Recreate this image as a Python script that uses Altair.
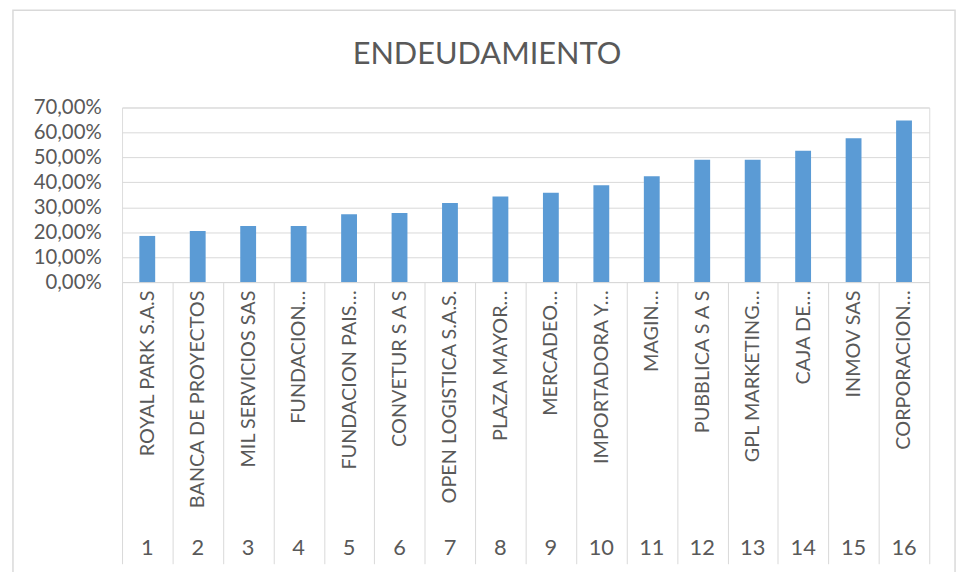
import altair as alt
import pandas as pd

nums = [str(i) for i in range(1, 17)]
names = [
    "ROYAL PARK S.A.S", "BANCA DE PROYECTOS", "MIL SERVICIOS SAS", "FUNDACION…",
    "FUNDACION PAIS…", "CONVETUR S A S", "OPEN LOGISTICA S.A.S.", "PLAZA MAYOR…",
    "MERCADEO…", "IMPORTADORA Y…", "MAGIN…", "PUBBLICA S A S",
    "GPL MARKETING…", "CAJA DE…", "INMOV SAS", "CORPORACION…",
]
values = [0.185, 0.205, 0.225, 0.225, 0.272, 0.277, 0.317, 0.343,
          0.358, 0.388, 0.424, 0.491, 0.491, 0.527, 0.577, 0.648]
y_ticks = [0, 0.1, 0.2, 0.3, 0.4, 0.5, 0.6, 0.7]

df = pd.DataFrame({"num": nums, "name": names, "value": values})
df["key"] = df["num"] + "|" + df["name"]

FONT = "Lato"
GRAY = "#595959"
LINE = "#d9d9d9"
W, H = 814, 176
order = list(df["key"])

bars = alt.Chart(df).mark_bar(color="#5B9BD5").encode(
    x=alt.X("key:N", sort=order,
            scale=alt.Scale(paddingInner=0.686, paddingOuter=0.343), axis=None),
    y=alt.Y("value:Q", scale=alt.Scale(domain=[0, 0.7]),
            axis=alt.Axis(values=y_ticks, grid=True, gridColor=LINE, domain=False,
                          ticks=False, labelFont=FONT, labelFontSize=20.5,
                          labelColor=GRAY, labelPadding=21, title=None,
                          labelExpr="replace(format(datum.value, '.2%'), '.', ',')")),
)

cat_axis = alt.Axis(
    orient="bottom", title=None, tickBand="extent", ticks=True, tickSize=284,
    tickColor=LINE, tickWidth=1, domainColor=LINE, labelAngle=270,
    labelAlign="right", labelBaseline="middle", labelPadding=-276,
    labelFont=FONT, labelFontSize=20, labelColor=GRAY, labelLimit=300,
    labelExpr="split(datum.value, '|')[1]",
)

cats = alt.Chart(df).mark_text(font=FONT, fontSize=22, color=GRAY, baseline="middle").encode(
    x=alt.X("key:N", sort=order, scale=alt.Scale(padding=0), axis=cat_axis),
    y=alt.value(444),
    text="num:N",
)

title = alt.Chart(pd.DataFrame({"t": ["ENDEUDAMIENTO"]})).mark_text(
    font=FONT, fontSize=31, color=GRAY, baseline="alphabetic", align="center"
).encode(x=alt.value(368), y=alt.value(-44), text="t:N")

border = alt.Chart(pd.DataFrame({"a": [0]})).mark_rect(
    fill=None, stroke=LINE, strokeWidth=1.5
).encode(x=alt.value(-110), x2=alt.value(840), y=alt.value(-98), y2=alt.value(475))

chart = alt.layer(border, bars, cats, title).resolve_scale(x="independent").resolve_axis(x="independent").properties(
    width=W, height=H,
    autosize=alt.AutoSizeParams(type="none"),
    padding={"left": 115, "top": 98, "right": 30, "bottom": 290},
).configure_view(stroke=None).configure(background="white")

chart.save("out.html", embed_options={"renderer": "svg", "actions": False})
